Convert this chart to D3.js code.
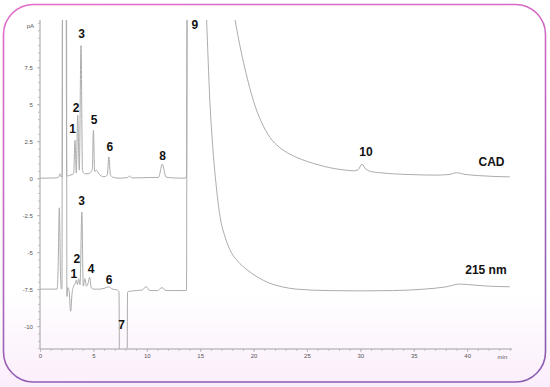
<!DOCTYPE html>
<html><head><meta charset="utf-8">
<script src="https://cdn.jsdelivr.net/npm/d3@7"></script>
<style>html,body{margin:0;padding:0;background:#fff;}svg{display:block;}</style>
</head><body>
<svg id="chart" width="550" height="387"></svg>
<script>
// ---- data (time in min, signal in pA) ----
const cadTime = [0,1.5,1.75,1.87,2.0,2.08,2.12,2.3,2.44,2.5,2.6,2.8,3.0,3.15,3.28,3.4,3.53,3.68,3.84,3.98,4.2,4.5,4.75,4.9,5.0,5.12,5.3,5.5,6.0,6.3,6.45,6.6,6.9,7.5,8.2,8.4,8.6,9.5,10.5,11.1,11.45,11.8,12.5,13.6,13.72,13.8,17.6,18.27,18.6,19.05,19.5,20.0,20.7,21.55,22.4,23.42,24.5,25.6,26.5,27.5,28.5,29.35,29.8,30.15,30.5,31.2,31.85,33,35,37,38.3,39.0,39.8,41,42.5,44.0];
const cadValue = [0,0.02,0.08,0.3,0.08,0.1,14,14,14,0.25,0.15,0.2,0.25,0.3,2.57,0.35,4.26,0.55,8.97,0.5,0.3,0.3,0.4,0.6,3.24,0.45,0.55,0.3,0.1,0.2,1.44,0.2,0.05,0.0,0.05,0.15,0.02,0.03,0.05,0.05,0.95,0.08,0.02,0.0,0.2,14,14,10.7,9.4,7.85,6.5,5.2,3.85,2.75,2.1,1.62,1.27,1.0,0.82,0.66,0.56,0.5,0.58,0.95,0.62,0.42,0.37,0.3,0.24,0.21,0.25,0.37,0.26,0.18,0.12,0.09];

const uvTime = [0,1.6,1.7,1.81,1.92,2.0,2.06,2.1,2.3,2.48,2.52,2.6,2.72,2.87,3.0,3.15,3.3,3.4,3.5,3.62,3.75,3.92,4.05,4.2,4.35,4.5,4.65,4.8,5.0,5.5,6.0,6.4,6.8,7.2,7.4,7.45,8.15,8.2,8.35,9.0,9.6,9.93,10.3,11.0,11.42,11.8,12.5,13.72,13.78,15.4,15.6,15.9,16.2,16.5,16.86,17.3,17.8,18.5,19.4,20.4,21.5,22.7,24,27,30,33,36,38,39.3,40.5,42,44.0];
const uvValue = [-7.5,-7.5,-6.0,-2.0,-6.5,-7.5,-7.4,14,14,14,-8.0,-7.4,-7.6,-9.0,-7.8,-7.3,-7.1,-6.9,-7.2,-6.8,-7.2,-2.3,-7.3,-6.8,-7.3,-7.1,-6.7,-7.4,-7.5,-7.5,-7.45,-7.35,-7.5,-7.55,-7.7,-14,-14,-7.7,-7.65,-7.6,-7.55,-7.34,-7.6,-7.6,-7.4,-7.6,-7.6,-7.6,14,14,10.7,5.3,1.9,-0.5,-2.6,-3.9,-4.86,-5.6,-6.2,-6.7,-7.1,-7.35,-7.5,-7.6,-7.62,-7.6,-7.5,-7.35,-7.16,-7.22,-7.3,-7.34];

const xTicks = [0,5,10,15,20,25,30,35,40];
const xTickLabels = ["0","5","10","15","20","25","30","35","40"];
const yTicks = [7.5,5,2.5,0,-2.5,-5,-7.5,-10];
const yTickLabels = ["7.5","5","2.5","0","-2.5","-5","-7.5","-10"];
const xUnit = "min", yUnit = "pA";

// annotation labels in data coordinates
const labelText = ["3","2","1","5","6","8","9","10","CAD","3","2","1","4","6","7","215 nm"];
const labelT    = [3.9,3.37,3.06,5.06,6.53,11.49,14.51,30.52,42.28,3.9,3.44,3.18,4.78,6.46,7.65,41.76];
const labelV    = [9.48,4.48,3.06,3.66,1.84,1.23,10.09,1.5,0.82,-1.81,-5.73,-6.75,-6.41,-7.15,-10.2,-6.48];

// ---- drawing ----
const svg = d3.select("#chart");
const W = 550, H = 387;
const defs = svg.append("defs");
const bg = defs.append("linearGradient").attr("id","bg").attr("x1",0).attr("y1",0).attr("x2",0).attr("y2",1);
bg.append("stop").attr("offset","0%").attr("stop-color","#ffffff");
bg.append("stop").attr("offset","75%").attr("stop-color","#ffffff");
bg.append("stop").attr("offset","100%").attr("stop-color","#fbeefb");
const bd = defs.append("linearGradient").attr("id","bd").attr("x1",0).attr("y1",0).attr("x2",0.3).attr("y2",1);
bd.append("stop").attr("offset","0%").attr("stop-color","#e46ac8");
bd.append("stop").attr("offset","45%").attr("stop-color","#c768c4");
bd.append("stop").attr("offset","100%").attr("stop-color","#8a5cb2");

svg.append("rect").attr("width",W).attr("height",H).attr("fill","url(#bg)");
svg.append("rect").attr("x",3.5).attr("y",4.5).attr("width",542).attr("height",377.5)
  .attr("rx",30).attr("ry",30).attr("fill","none").attr("stroke","url(#bd)").attr("stroke-width",1.6);

const x = d3.scaleLinear().domain([0,44.2]).range([40,512]);
const y = d3.scaleLinear().domain([-11.55,10.7]).range([349,20]);

defs.append("clipPath").attr("id","clip").append("rect")
  .attr("x",x.range()[0]).attr("y",y.range()[1]).attr("width",x.range()[1]-x.range()[0]).attr("height",y.range()[0]-y.range()[1]);

const axisColor = "#b4b4b4", textColor = "#555";

// x axis
const xAxisG = svg.append("g").attr("transform",`translate(0,${y(-11.55)})`);
xAxisG.call(d3.axisBottom(x).tickValues(d3.range(0,45,1)).tickSize(2).tickFormat(""));
xAxisG.append("g").call(d3.axisBottom(x).tickValues(xTicks).tickSize(3)
  .tickFormat((d,i)=>xTickLabels[i]));
xAxisG.selectAll("path,line").attr("stroke",axisColor).attr("stroke-width",0.8);
xAxisG.selectAll("path.domain").attr("d",`M${x.range()[0]},0H${x.range()[1]}`);
xAxisG.selectAll("text").attr("fill",textColor).attr("font-size",6).attr("font-family","Liberation Sans, Arial, sans-serif").attr("dy","0.5em");
xAxisG.append("text").attr("x",x(43.3)).attr("y",9.5).attr("text-anchor","middle")
  .attr("fill",textColor).attr("font-size",6).attr("font-family","Liberation Sans, Arial, sans-serif").text(xUnit);

// y axis
const yAxisG = svg.append("g").attr("transform",`translate(${x(0)},0)`);
yAxisG.call(d3.axisLeft(y).tickValues(d3.range(-11.5,10.51,0.5)).tickSize(2).tickFormat(""));
yAxisG.append("g").call(d3.axisLeft(y).tickValues(yTicks).tickSize(3)
  .tickFormat((d,i)=>yTickLabels[i]));
yAxisG.selectAll("path,line").attr("stroke",axisColor).attr("stroke-width",0.8);
yAxisG.selectAll("path.domain").attr("d",`M0,${y.range()[0]}V${y.range()[1]}`);
yAxisG.selectAll("text").attr("fill",textColor).attr("font-size",6).attr("font-family","Liberation Sans, Arial, sans-serif").attr("dx","-0.2em");
yAxisG.append("text").attr("x",-6).attr("y",y(10.3)).attr("text-anchor","end").attr("dy","0.32em")
  .attr("fill",textColor).attr("font-size",6).attr("font-family","Liberation Sans, Arial, sans-serif").text(yUnit);

// traces
const line = d3.line().x(d=>x(d[0])).y(d=>y(d[1])).curve(d3.curveMonotoneX);
const plot = svg.append("g").attr("clip-path","url(#clip)");
plot.append("path").datum(uvTime.map((t,i)=>[t,uvValue[i]]))
  .attr("d",line).attr("fill","none").attr("stroke","#acacac").attr("stroke-width",1);
plot.append("path").datum(cadTime.map((t,i)=>[t,cadValue[i]]))
  .attr("d",line).attr("fill","none").attr("stroke","#acacac").attr("stroke-width",1);

// labels
svg.append("g").selectAll("text").data(labelText).join("text")
  .attr("x",(d,i)=>x(labelT[i])).attr("y",(d,i)=>y(labelV[i]))
  .attr("text-anchor","middle").attr("font-family","Liberation Sans, Arial, sans-serif")
  .attr("font-weight","bold").attr("font-size",12).attr("fill","#111").text(d=>d);
</script>
</body></html>
